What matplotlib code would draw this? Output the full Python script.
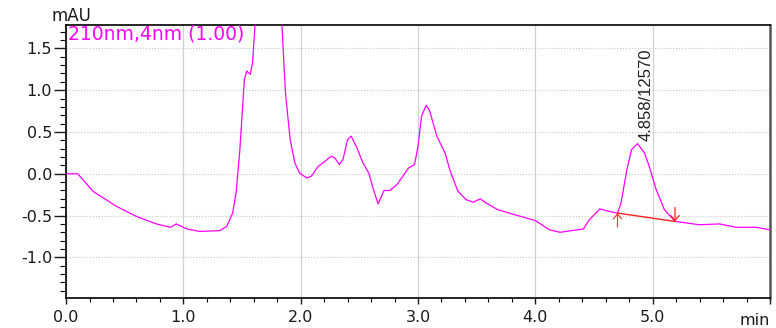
import matplotlib
matplotlib.use("Agg")
import matplotlib.pyplot as plt
from matplotlib.ticker import MultipleLocator

# chromatogram trace (min, mAU)
zeit = [0.00, 0.10, 0.23, 0.43, 0.60, 0.77, 0.89, 0.94, 1.03, 1.14,
        1.31, 1.37, 1.42, 1.45, 1.48, 1.50, 1.52, 1.54, 1.57, 1.59,
        1.61, 1.66, 1.72, 1.78, 1.84, 1.87, 1.91, 1.95, 1.99, 2.05,
        2.09, 2.15, 2.19, 2.26, 2.29, 2.33, 2.36, 2.40, 2.43, 2.48,
        2.53, 2.58, 2.62, 2.66, 2.71, 2.76, 2.82, 2.87, 2.92, 2.97,
        3.00, 3.03, 3.07, 3.10, 3.16, 3.23, 3.27, 3.34, 3.41, 3.47,
        3.53, 3.58, 3.68, 3.85, 4.00, 4.12, 4.21, 4.41, 4.46, 4.55,
        4.63, 4.70, 4.73, 4.78, 4.82, 4.87, 4.93, 4.97, 5.03, 5.10,
        5.19, 5.40, 5.57, 5.71, 5.88, 6.00]
signal = [0.00, 0.00, -0.21, -0.39, -0.51, -0.60, -0.64, -0.60, -0.66, -0.69,
          -0.68, -0.63, -0.47, -0.22, 0.26, 0.69, 1.13, 1.23, 1.19, 1.33,
          1.77, 2.40, 2.70, 2.40, 1.78, 0.97, 0.41, 0.13, 0.01, -0.05,
          -0.03, 0.09, 0.13, 0.21, 0.19, 0.11, 0.17, 0.41, 0.45, 0.31,
          0.13, 0.01, -0.19, -0.36, -0.20, -0.20, -0.13, -0.03, 0.07, 0.11,
          0.33, 0.69, 0.82, 0.75, 0.45, 0.25, 0.05, -0.21, -0.31, -0.34,
          -0.30, -0.35, -0.43, -0.50, -0.56, -0.67, -0.70, -0.66, -0.55, -0.42,
          -0.45, -0.47, -0.35, 0.05, 0.29, 0.36, 0.25, 0.09, -0.19, -0.43,
          -0.57, -0.61, -0.60, -0.64, -0.64, -0.67]

# integration baseline of the marked peak
basis_zeit = [4.70, 5.19]
basis_wert = [-0.47, -0.57]
peak_rt = 4.858
peak_hoehe = 0.36
peak_text = "4.858/12570"

x_ticks = [0.0, 1.0, 2.0, 3.0, 4.0, 5.0, 6.0]
x_labels = ["0.0", "1.0", "2.0", "3.0", "4.0", "5.0", ""]
y_ticks = [-1.0, -0.5, 0.0, 0.5, 1.0, 1.5]
y_labels = ["-1.0", "-0.5", "0.0", "0.5", "1.0", "1.5"]

plt.rcParams["font.family"] = ["DejaVu Sans"]

fig = plt.figure(figsize=(7.76, 3.28), dpi=100)
ax = fig.add_axes([0.0851, 0.0905, 0.9072, 0.8333])

ax.plot(zeit, signal, color="#ff00ff", lw=0.9, zorder=3)
ax.plot(basis_zeit, basis_wert, color="#ff2020", lw=1.0, zorder=4)

# start / end markers of the integration
ax.annotate("", xy=(basis_zeit[0], basis_wert[0]), xytext=(0, -10),
            textcoords="offset points",
            arrowprops=dict(arrowstyle="->,head_length=0.35,head_width=0.3",
                            color="#ff4040", lw=0.9, shrinkA=0, shrinkB=0))
ax.annotate("", xy=(basis_zeit[1], basis_wert[1]), xytext=(0, 10),
            textcoords="offset points",
            arrowprops=dict(arrowstyle="->,head_length=0.35,head_width=0.3",
                            color="#ff2020", lw=0.9, shrinkA=0, shrinkB=0))

ax.annotate(peak_text, xy=(peak_rt, peak_hoehe), xytext=(7.5, 2),
            textcoords="offset points", rotation=90, ha="center", va="bottom",
            fontsize=12, color="#202020", family="Liberation Sans")

ax.set_xlim(0.0, 6.0)
ax.set_ylim(-1.49, 1.78)
ax.set_xticks(x_ticks)
ax.set_xticklabels(x_labels)
ax.set_yticks(y_ticks)
ax.set_yticklabels(y_labels)
ax.xaxis.set_minor_locator(MultipleLocator(0.2))
ax.yaxis.set_minor_locator(MultipleLocator(0.1))
ax.tick_params(axis="both", which="major", labelsize=11.5, colors="#1a1a1a")
ax.tick_params(axis="y", which="major", length=8.5, width=1.0, pad=1.5)
ax.tick_params(axis="y", which="minor", length=4.3, width=0.8)
ax.tick_params(axis="x", which="major", length=4.3, width=1.0, pad=4)
ax.tick_params(axis="x", which="minor", length=3, width=0.8)

ax.yaxis.grid(True, which="major", color="#c8c8c8", ls=":", lw=0.8)
ax.xaxis.grid(True, which="major", color="#d0d0d0", ls="-", lw=0.9)
ax.set_axisbelow(True)

for s in ["left", "bottom", "top"]:
    ax.spines[s].set_color("black")
    ax.spines[s].set_linewidth(1.2)
ax.spines["right"].set_color("#555555")
ax.spines["right"].set_linewidth(1.8)

ax.text(-0.02, 1.0, "mAU", transform=ax.transAxes, ha="left", va="bottom",
        fontsize=12, color="#1a1a1a")
ax.text(1.0, -0.055, "min", transform=ax.transAxes, ha="right", va="top",
        fontsize=11.5, color="#1a1a1a")
ax.text(0.003, 1.0, "210nm,4nm (1.00)", transform=ax.transAxes,
        ha="left", va="top", fontsize=13.5, color="#ff00ff")

plt.savefig("out.png", dpi=100)
